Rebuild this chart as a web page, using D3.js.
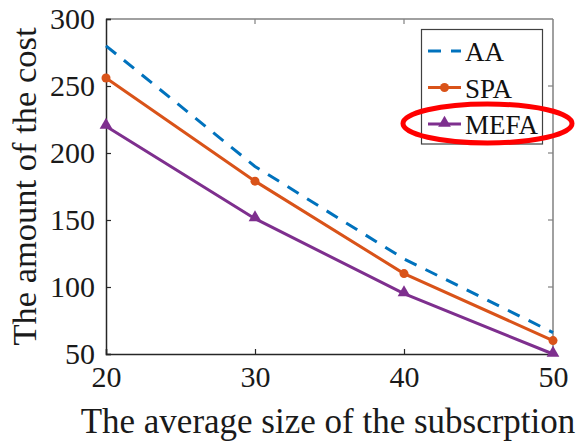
<!DOCTYPE html>
<html>
<head>
<meta charset="utf-8">
<script src="https://cdn.jsdelivr.net/npm/d3@7"></script>
<style>
  body { margin: 0; background: #fff; }
  svg { display: block; }
  svg text { font-family: "Liberation Serif", "Times New Roman", serif; }
</style>
</head>
<body>
<div id="chart"></div>
<script>
// Data
const sizes = [20, 30, 40, 50];
const aaCost = [280, 190, 121, 66];
const spaCost = [256, 179, 110, 60];
const mefaCost = [220, 151, 95, 50];
const xTicks = [20, 30, 40, 50];
const yTicks = [50, 100, 150, 200, 250, 300];

const series = [
  { name: 'AA', values: aaCost, color: '#0072BD', dash: '13,10', marker: null },
  { name: 'SPA', values: spaCost, color: '#D95319', dash: null, marker: 'circle' },
  { name: 'MEFA', values: mefaCost, color: '#7E2F8E', dash: null, marker: 'triangle' }
];

const width = 584, height = 442;
const margin = { left: 106, right: 31, top: 19, bottom: 88 };
const serif = '"Liberation Serif", "Times New Roman", serif';

const svg = d3.select('#chart').append('svg')
  .attr('width', width)
  .attr('height', height);

const x = d3.scaleLinear().domain([20, 50]).range([margin.left, width - margin.right]);
const y = d3.scaleLinear().domain([50, 300]).range([height - margin.bottom, margin.top]);

const axisColor = '#262626';
const boxColor = '#808080';

// box (top / right)
svg.append('line')
  .attr('x1', x(20)).attr('x2', x(50)).attr('y1', y(300)).attr('y2', y(300))
  .attr('stroke', boxColor).attr('stroke-width', 1.5);
svg.append('line')
  .attr('x1', x(50)).attr('x2', x(50)).attr('y1', y(50)).attr('y2', y(300))
  .attr('stroke', boxColor).attr('stroke-width', 1.5);

// inward ticks on top and right
svg.append('g').selectAll('line')
  .data(xTicks.slice(1, -1))
  .enter().append('line')
  .attr('x1', d => x(d)).attr('x2', d => x(d))
  .attr('y1', y(300)).attr('y2', y(300) + 5)
  .attr('stroke', boxColor).attr('stroke-width', 1.2);
svg.append('g').selectAll('line')
  .data(yTicks.slice(1, -1))
  .enter().append('line')
  .attr('x1', x(50)).attr('x2', x(50) - 5)
  .attr('y1', d => y(d)).attr('y2', d => y(d))
  .attr('stroke', boxColor).attr('stroke-width', 1.2);

// bottom axis
const xAxis = svg.append('g')
  .attr('transform', `translate(0, ${y(50)})`)
  .call(d3.axisBottom(x).tickValues(xTicks).tickSize(-5).tickPadding(12))
  .attr('font-family', serif)
  .attr('font-size', 30);
xAxis.select('.domain').attr('stroke', axisColor).attr('stroke-width', 1.5);
xAxis.selectAll('.tick line').attr('stroke', axisColor).attr('stroke-width', 1.2);
xAxis.selectAll('.tick text').attr('fill', '#1a1a1a');

// left axis
const yAxis = svg.append('g')
  .attr('transform', `translate(${x(20)}, 0)`)
  .call(d3.axisLeft(y).tickValues(yTicks).tickSize(-5).tickPadding(11))
  .attr('font-family', serif)
  .attr('font-size', 30);
yAxis.select('.domain').attr('stroke', axisColor).attr('stroke-width', 1.5);
yAxis.selectAll('.tick line').attr('stroke', axisColor).attr('stroke-width', 1.2);
yAxis.selectAll('.tick text').attr('fill', '#1a1a1a');

// axis labels
svg.append('text')
  .attr('x', 328)
  .attr('y', 433)
  .attr('text-anchor', 'middle')
  .attr('fill', '#1a1a1a')
  .style('font-size', '35px')
  .text('The average size of the subscrption');

svg.append('text')
  .attr('transform', `translate(36, ${(y(50) + y(300)) / 2}) rotate(-90)`)
  .attr('text-anchor', 'middle')
  .attr('fill', '#1a1a1a')
  .style('font-size', '34.5px')
  .text('The amount of the cost');

// lines
const line = d3.line()
  .x((d, i) => x(sizes[i]))
  .y(d => y(d));

const triangle = d3.symbol().type(d3.symbolTriangle).size(70);

series.forEach(s => {
  svg.append('path')
    .datum(s.values)
    .attr('fill', 'none')
    .attr('stroke', s.color)
    .attr('stroke-width', 3)
    .attr('stroke-dasharray', s.dash)
    .attr('d', line);

  if (s.marker === 'circle') {
    svg.append('g').selectAll('circle')
      .data(s.values)
      .enter().append('circle')
      .attr('cx', (d, i) => x(sizes[i]))
      .attr('cy', d => y(d))
      .attr('r', 4.5)
      .attr('fill', s.color);
  } else if (s.marker === 'triangle') {
    svg.append('g').selectAll('path')
      .data(s.values)
      .enter().append('path')
      .attr('d', triangle)
      .attr('transform', (d, i) => `translate(${x(sizes[i])}, ${y(d) - 1})`)
      .attr('fill', s.color);
  }
});

// legend
const legend = svg.append('g');
legend.append('rect')
  .attr('x', 421.5).attr('y', 29.5)
  .attr('width', 121).attr('height', 114.5)
  .attr('fill', '#fff')
  .attr('stroke', '#404040')
  .attr('stroke-width', 1.2);

const legendItems = legend.selectAll('g.item')
  .data(series)
  .enter().append('g')
  .attr('class', 'item')
  .attr('transform', (d, i) => `translate(0, ${51 + i * 36.5})`);

legendItems.append('line')
  .attr('x1', 428).attr('x2', 461)
  .attr('y1', 0).attr('y2', 0)
  .attr('stroke', d => d.color)
  .attr('stroke-width', 3)
  .attr('stroke-dasharray', d => d.dash);

legendItems.filter(d => d.marker === 'circle')
  .append('circle')
  .attr('cx', 444.5).attr('cy', 0).attr('r', 4.5)
  .attr('fill', d => d.color);

legendItems.filter(d => d.marker === 'triangle')
  .append('path')
  .attr('d', triangle)
  .attr('transform', 'translate(444.5, -1)')
  .attr('fill', d => d.color);

legendItems.append('text')
  .attr('x', 465)
  .attr('y', 10)
  .attr('fill', '#111')
  .style('font-size', '27px')
  .text(d => d.name);

// red highlight ellipse around MEFA
svg.append('ellipse')
  .attr('cx', 487.5).attr('cy', 123.5)
  .attr('rx', 84.5).attr('ry', 19.5)
  .attr('fill', 'none')
  .attr('stroke', '#f00')
  .attr('stroke-width', 5);
</script>
</body>
</html>
